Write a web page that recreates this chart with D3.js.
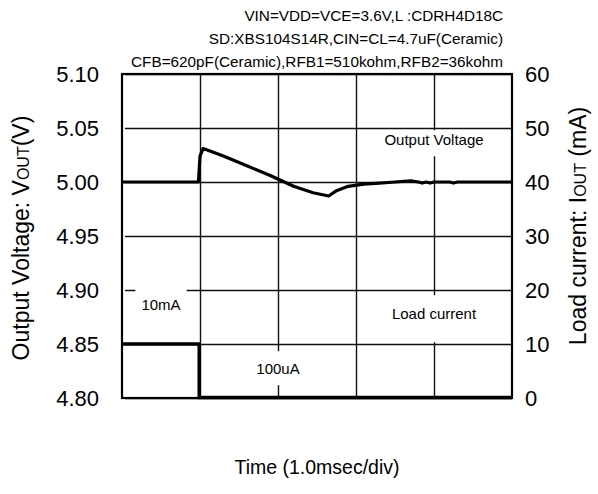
<!DOCTYPE html>
<meta charset="utf-8">
<title>load transient</title>
<style>
  body { margin: 0; background: #fff; }
  text { font-family: "Liberation Sans", Arial, sans-serif; fill: #000; }
  .grid line { stroke: #111; stroke-width: 1.4; }
  .grid path { display: none; }
  .tick-label { font-size: 22px; }
</style>
<body>
<div id="chart"></div>
</body>
<script src="https://d3js.org/d3.v7.min.js"></script>
<script>

// data (time in ms, 1.0 ms/div)

var voutTime = [0, 0.98, 1.0, 1.04, 1.3, 1.6, 1.9, 2.2, 2.45, 2.65, 2.75, 2.9, 3.1, 3.3, 3.5, 3.7, 3.8, 3.85, 3.9, 3.95, 4.0, 4.2, 4.25, 4.3, 5.0];
var voutValue = [5.000, 5.000, 5.024, 5.031, 5.024, 5.015, 5.006, 4.996, 4.990, 4.987, 4.992, 4.996, 4.998, 4.999, 5.000, 5.001, 5.000, 4.999, 5.000, 4.999, 5.000, 5.000, 4.999, 5.000, 5.000];

var ioutTime = [0, 0.99, 0.99, 5.0];
var ioutValue = [10, 10, 0.1, 0.1];

var voltTicks = [4.80, 4.85, 4.90, 4.95, 5.00, 5.05, 5.10];
var currentTicks = [0, 10, 20, 30, 40, 50, 60];
var timeDivs = [1, 2, 3, 4];

var titleLines = [
  "VIN=VDD=VCE=3.6V,L :CDRH4D18C",
  "SD:XBS104S14R,CIN=CL=4.7uF(Ceramic)",
  "CFB=620pF(Ceramic),RFB1=510kohm,RFB2=36kohm"
];

var W = 598, H = 494;
var box = {left: 122, right: 512, top: 74, bottom: 398};

var svg = d3.select("#chart").append("svg")
  .attr("width", W)
  .attr("height", H);

var x = d3.scaleLinear().domain([0, 5]).range([box.left, box.right]);
var yV = d3.scaleLinear().domain([4.80, 5.10]).range([box.bottom, box.top]);
var yI = d3.scaleLinear().domain([0, 60]).range([box.bottom, box.top]);

// grid

svg.append("g")
  .attr("class", "grid")
  .attr("transform", "translate(" + box.left + ",0)")
  .call(d3.axisLeft(yV).tickValues(voltTicks).tickSize(-(box.right - box.left)).tickFormat(""))
  .selectAll("line").attr("x1", 3);

svg.append("g")
  .attr("class", "grid")
  .attr("transform", "translate(0," + box.bottom + ")")
  .call(d3.axisBottom(x).tickValues(timeDivs).tickSize(-(box.bottom - box.top)).tickFormat(""));

// tick labels

svg.append("g")
  .selectAll("text")
  .data(voltTicks)
  .enter()
  .append("text")
  .attr("class", "tick-label")
  .attr("x", 99)
  .attr("y", function(d) { return yV(d); })
  .attr("dy", "0.35em")
  .attr("text-anchor", "end")
  .text(function(d) { return d.toFixed(2); });

svg.append("g")
  .selectAll("text")
  .data(currentTicks)
  .enter()
  .append("text")
  .attr("class", "tick-label")
  .attr("x", 525)
  .attr("y", function(d) { return yI(d); })
  .attr("dy", "0.35em")
  .text(function(d) { return d; });

// labels inside plot, on white boxes that cut the grid

function boxLabel(cx, cy, str, padX, padTop, padBottom) {
  var g = svg.append("g");
  var r = g.append("rect").attr("fill", "#fff");
  var t = g.append("text")
    .attr("x", cx)
    .attr("y", cy)
    .attr("dy", "0.35em")
    .attr("text-anchor", "middle")
    .style("font-size", "15px")
    .text(str);
  var b = t.node().getBBox();
  r.attr("x", b.x - padX)
    .attr("y", b.y - padTop)
    .attr("width", b.width + 2 * padX)
    .attr("height", b.height + padTop + padBottom);
}

boxLabel(x(4), 140, "Output Voltage", 5, 1, 8);
boxLabel(x(4), 314, "Load current", 6, 10, 20);
boxLabel(x(0.5), 305, "10mA", 6, 14, 10);
boxLabel(x(2), 369, "100uA", 6, 9, 8);

// data lines

var lineV = d3.line()
  .x(function(d, i) { return x(voutTime[i]); })
  .y(function(d) { return yV(d); });

var lineI = d3.line()
  .x(function(d, i) { return x(ioutTime[i]); })
  .y(function(d) { return yI(d); });

svg.append("path")
  .attr("d", lineV(voutValue))
  .attr("fill", "none")
  .attr("stroke", "#000")
  .attr("stroke-width", 3.2)
  .attr("stroke-linejoin", "round");

svg.append("path")
  .attr("d", lineI(ioutValue))
  .attr("fill", "none")
  .attr("stroke", "#000")
  .attr("stroke-width", 3.5);

// frame

svg.append("rect")
  .attr("x", box.left)
  .attr("y", box.top)
  .attr("width", box.right - box.left)
  .attr("height", box.bottom - box.top)
  .attr("fill", "none")
  .attr("stroke", "#000")
  .attr("stroke-width", 2.2);

// title block

svg.append("g")
  .selectAll("text")
  .data(titleLines)
  .enter()
  .append("text")
  .attr("x", 503)
  .attr("y", function(d, i) { return 21 + i * 23; })
  .attr("text-anchor", "end")
  .style("font-size", "15.3px")
  .text(function(d) { return d; });

// axis titles

var yl = svg.append("text")
  .attr("transform", "translate(29,238) rotate(-90)")
  .attr("text-anchor", "middle")
  .style("font-size", "23px");
yl.append("tspan").text("Output Voltage: V");
yl.append("tspan").style("font-size", "16px").text("OUT");
yl.append("tspan").text("(V)");

var yr = svg.append("text")
  .attr("transform", "translate(586,226) rotate(-90)")
  .attr("text-anchor", "middle")
  .style("font-size", "23px");
yr.append("tspan").text("Load current: I");
yr.append("tspan").style("font-size", "16px").text("OUT");
yr.append("tspan").text(" (mA)");

svg.append("text")
  .attr("x", (box.left + box.right) / 2)
  .attr("y", 474)
  .attr("text-anchor", "middle")
  .style("font-size", "19.5px")
  .text("Time (1.0msec/div)");

</script>
